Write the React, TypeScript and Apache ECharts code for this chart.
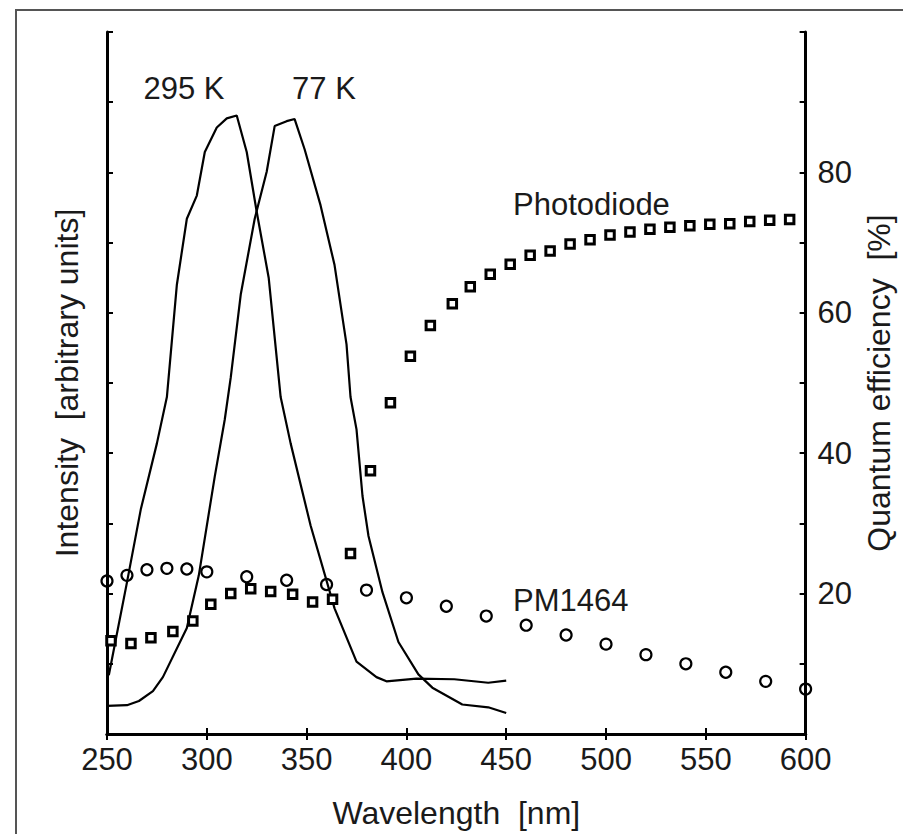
import React, { useEffect, useRef } from "react";
import * as echarts from "echarts";

// 295 K emission spectrum (wavelength nm, intensity arb. units)
const wl295 = [250, 251, 260, 267, 275, 280, 285, 290, 295, 299, 305, 310, 315, 320, 325, 331, 337, 342, 352, 364, 375, 385, 390, 405, 424, 441, 450];
const int295 = [8.2, 8.5, 21.6, 32.1, 41.4, 48.0, 64.0, 73.4, 76.7, 82.9, 86.4, 87.7, 88.1, 82.9, 74.4, 65.0, 48.0, 41.4, 29.7, 17.9, 10.3, 8.1, 7.5, 7.9, 7.8, 7.3, 7.6];

// 77 K emission spectrum
const wl77 = [250, 260, 266, 273, 278, 290, 296, 304, 309, 312, 317, 324, 330, 334, 340, 344, 349, 357, 364, 370, 372, 375, 378, 381, 388, 396, 406, 413, 428, 441, 450];
const int77 = [4.0, 4.1, 4.7, 6.1, 8.1, 15.1, 22.6, 36.7, 44.8, 50.8, 62.6, 73.4, 80.1, 86.6, 87.3, 87.6, 83.3, 75.3, 66.8, 55.5, 48.0, 43.4, 33.9, 28.2, 20.2, 13.1, 8.5, 6.6, 4.2, 3.8, 3.0];

// Photodiode quantum efficiency (%)
const pdWl = [252, 262, 272, 283, 293, 302, 312, 322, 332, 343, 353, 363, 372, 382, 392, 402, 412, 423, 432, 442, 452, 462, 472, 482, 492, 502, 512, 522, 532, 542, 552, 562, 572, 582, 592];
const pdQE = [13.3, 12.9, 13.7, 14.6, 16.1, 18.5, 20.0, 20.7, 20.3, 19.9, 18.8, 19.2, 25.7, 37.5, 47.2, 53.8, 58.2, 61.3, 63.7, 65.5, 66.9, 68.2, 68.8, 69.8, 70.4, 71.1, 71.5, 71.9, 72.2, 72.4, 72.6, 72.7, 73.0, 73.2, 73.3];

// PM1464 quantum efficiency (%)
const pmWl = [250, 260, 270, 280, 290, 300, 320, 340, 360, 380, 400, 420, 440, 460, 480, 500, 520, 540, 560, 580, 600];
const pmQE = [21.8, 22.6, 23.4, 23.6, 23.5, 23.1, 22.4, 21.9, 21.3, 20.5, 19.4, 18.2, 16.8, 15.5, 14.1, 12.8, 11.3, 10.0, 8.8, 7.5, 6.4];

const xTicks = { min: 250, max: 600, interval: 50 };
const yTicks = { min: 0, max: 100, interval: 10 };
const rightLabels = [20, 40, 60, 80];

const FONT = "'Liberation Sans', Arial, sans-serif";
const INK = "#1a1a1a";
const W = 903;
const H = 834;

export default function App() {
  const ref = useRef<HTMLDivElement>(null);
  useEffect(() => {
    if (!ref.current) return;
    document.body.style.margin = "0";
    document.body.style.overflow = "hidden";
    const chart = echarts.init(ref.current, undefined, { renderer: "svg", width: W, height: H });
    const axisLine = { show: true, lineStyle: { color: "#000", width: 3 } };
    const axisTick = { show: true, inside: true, length: 6, lineStyle: { color: "#000", width: 2 } };
    const zip = (a: number[], b: number[]) => a.map((v, i) => [v, b[i]]);
    chart.setOption({
      animation: false,
      backgroundColor: "#fff",
      textStyle: { fontFamily: FONT },
      grid: { left: 107, top: 32, right: 87, bottom: 94, containLabel: false },
      xAxis: [
        {
          type: "value", position: "bottom", ...xTicks,
          axisLine, axisTick, splitLine: { show: false },
          axisLabel: { fontSize: 31, color: INK, margin: 10, fontFamily: FONT },
          name: "Wavelength  [nm]", nameLocation: "middle", nameGap: 63,
          nameTextStyle: { fontSize: 32, color: INK, fontFamily: FONT },
        },
        {
          type: "value", position: "top", ...xTicks,
          axisLine, axisTick, splitLine: { show: false }, axisLabel: { show: false },
        },
      ],
      yAxis: [
        {
          type: "value", position: "left", ...yTicks,
          axisLine, axisTick, splitLine: { show: false }, axisLabel: { show: false },
          name: "Intensity  [arbitrary units]", nameLocation: "middle", nameGap: 24, nameRotate: 90,
          nameTextStyle: { fontSize: 32, color: INK, fontFamily: FONT },
        },
        {
          type: "value", position: "right", ...yTicks,
          axisLine, axisTick, splitLine: { show: false },
          axisLabel: {
            fontSize: 31, color: INK, margin: 12, fontFamily: FONT,
            formatter: (v: number) => (rightLabels.includes(v) ? String(v) : ""),
          },
          name: "Quantum efficiency  [%]", nameLocation: "middle", nameGap: 50, nameRotate: 90,
          nameTextStyle: { fontSize: 32, color: INK, fontFamily: FONT },
        },
      ],
      graphic: [
        { type: "rect", shape: { x: 16, y: 10, width: 1000, height: 1000 }, style: { fill: "none", stroke: "#555", lineWidth: 2 }, silent: true },
        { type: "text", x: 184, y: 88, style: { text: "295 K", fontSize: 31, fill: INK, fontFamily: FONT, align: "center", verticalAlign: "middle" } },
        { type: "text", x: 324, y: 88, style: { text: "77 K", fontSize: 31, fill: INK, fontFamily: FONT, align: "center", verticalAlign: "middle" } },
        { type: "text", x: 513, y: 204, style: { text: "Photodiode", fontSize: 31, fill: INK, fontFamily: FONT, align: "left", verticalAlign: "middle" } },
        { type: "text", x: 513, y: 600, style: { text: "PM1464", fontSize: 31, fill: INK, fontFamily: FONT, align: "left", verticalAlign: "middle" } },
      ],
      series: [
        {
          name: "295 K", type: "line", xAxisIndex: 0, yAxisIndex: 0, data: zip(wl295, int295),
          showSymbol: false, symbol: "none", lineStyle: { color: "#000", width: 2.2 }, z: 3,
        },
        {
          name: "77 K", type: "line", xAxisIndex: 0, yAxisIndex: 0, data: zip(wl77, int77),
          showSymbol: false, symbol: "none", lineStyle: { color: "#000", width: 2.2 }, z: 3,
        },
        {
          name: "Photodiode", type: "scatter", xAxisIndex: 0, yAxisIndex: 1, data: zip(pdWl, pdQE),
          symbol: "rect", symbolSize: 8.5,
          itemStyle: { color: "#fff", borderColor: "#000", borderWidth: 3, opacity: 1 }, z: 4,
        },
        {
          name: "PM1464", type: "scatter", xAxisIndex: 0, yAxisIndex: 1, data: zip(pmWl, pmQE),
          symbol: "circle", symbolSize: 11,
          itemStyle: { color: "rgba(255,255,255,0)", borderColor: "#000", borderWidth: 2.2, opacity: 1 }, z: 4,
        },
      ],
    });
    return () => chart.dispose();
  }, []);
  return (
    <div
      ref={ref}
      style={{ position: "absolute", left: 0, top: 0, width: W, height: H, background: "#fff" }}
    />
  );
}
